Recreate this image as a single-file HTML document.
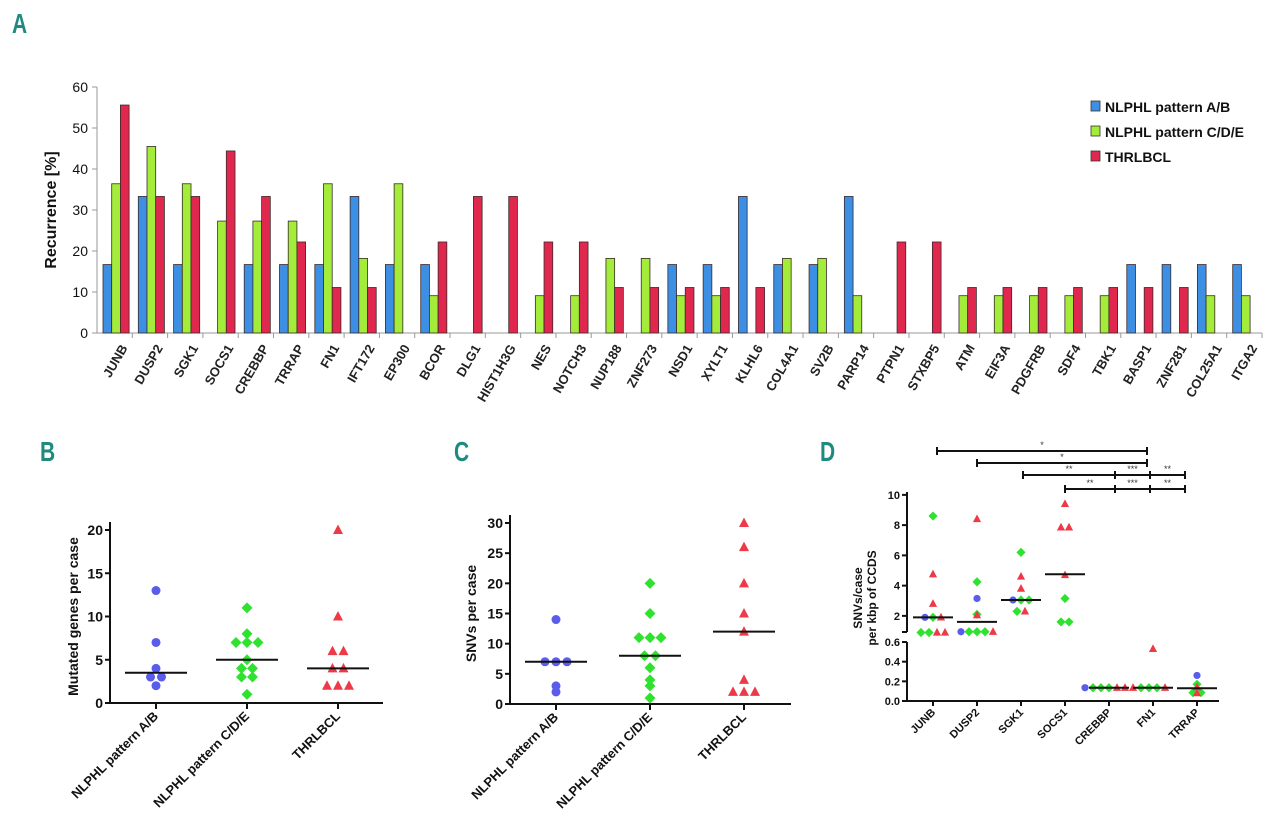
<!DOCTYPE html>
<html><head><meta charset="utf-8"><style>
html,body{margin:0;padding:0;background:#fff;}
svg{display:block;font-family:"Liberation Sans",Arial,sans-serif;}
.pl{fill:#1f8a80;font-weight:bold;font-size:28px;}
</style></head><body>
<svg id="fig" width="1280" height="834" viewBox="0 0 1280 834" xmlns="http://www.w3.org/2000/svg">
<text class="pl" x="12" y="33" transform="translate(12,33) scale(0.75,1) translate(-12,-33)">A</text>
<text class="pl" x="40" y="461" transform="translate(40,461) scale(0.75,1) translate(-40,-461)">B</text>
<text class="pl" x="454" y="461" transform="translate(454,461) scale(0.75,1) translate(-454,-461)">C</text>
<text class="pl" x="820" y="461" transform="translate(820,461) scale(0.75,1) translate(-820,-461)">D</text>
<g id="A"></g>
<g id="B"></g>
<g id="C"></g>
<g id="D"></g>
</svg>
<script>
const genes=["JUNB","DUSP2","SGK1","SOCS1","CREBBP","TRRAP","FN1","IFT172","EP300","BCOR","DLG1","HIST1H3G","NES","NOTCH3","NUP188","ZNF273","NSD1","XYLT1","KLHL6","COL4A1","SV2B","PARP14","PTPN1","STXBP5","ATM","EIF3A","PDGFRB","SDF4","TBK1","BASP1","ZNF281","COL25A1","ITGA2"];
const seriesAB=[16.7,33.3,16.7,0,16.7,16.7,16.7,33.3,16.7,16.7,0,0,0,0,0,0,16.7,16.7,33.3,16.7,16.7,33.3,0,0,0,0,0,0,0,16.7,16.7,16.7,16.7];
const seriesCDE=[36.4,45.5,36.4,27.3,27.3,27.3,36.4,18.2,36.4,9.1,0,0,9.1,9.1,18.2,18.2,9.1,9.1,0,18.2,18.2,9.1,0,0,9.1,9.1,9.1,9.1,9.1,0,0,9.1,9.1];
const seriesTHR=[55.6,33.3,33.3,44.4,33.3,22.2,11.1,11.1,0,22.2,33.3,33.3,22.2,22.2,11.1,11.1,11.1,11.1,11.1,0,0,0,22.2,22.2,11.1,11.1,11.1,11.1,11.1,11.1,11.1,0,0];
const ticksA=[0,10,20,30,40,50,60];
const legendA=["NLPHL pattern A/B","NLPHL pattern C/D/E","THRLBCL"];

const groupsBC=["NLPHL pattern A/B","NLPHL pattern C/D/E","THRLBCL"];
const bAB=[13,7,4,3,3,2], bCDE=[11,8,7,7,7,5,4,4,3,3,1], bTHR=[20,10,6,6,4,4,2,2,2];
const bMed=[3.5,5,4];
const ticksB=[0,5,10,15,20];
const cAB=[14,7,7,7,3,2], cCDE=[20,15,11,11,11,8,8,6,4,3,1], cTHR=[30,26,20,15,12,4,2,2,2];
const cMed=[7,8,12];
const ticksC=[0,5,10,15,20,25,30];

const genesD=["JUNB","DUSP2","SGK1","SOCS1","CREBBP","FN1","TRRAP"];
const dBlue=[[1.9],[3.15,0.95],[3.05],[],[0.135],[],[0.26]];
const dGreen=[[8.6,1.9,0.9,0.9],[4.25,2.1,0.95,0.95,0.95],[6.2,3.05,3.05,2.3],[3.15,1.6,1.6],[0.135,0.135,0.135],[0.135,0.135,0.135],[0.17,0.085,0.085]];
const dRed=[[4.75,2.8,1.9,0.9,0.9],[8.4,2.05,0.95],[4.6,3.8,2.3],[9.4,7.85,7.85,4.7],[0.135,0.135,0.135],[0.53,0.135],[0.14,0.08]];
const dMed=[1.9,1.6,3.05,4.75,0.135,0.135,0.13];
const ticksDUp=[2,4,6,8,10];
const ticksDLo=[0,0.2,0.4,0.6];

const NS="http://www.w3.org/2000/svg";
function mk(parent,tag,attrs,txt){const e=document.createElementNS(NS,tag);for(const k in attrs)e.setAttribute(k,attrs[k]);if(txt!==undefined)e.textContent=txt;parent.appendChild(e);return e;}

// ---------- Panel A ----------
(function(){
const g=document.getElementById('A');
const x0=97,x1=1262,y0=333,yTop=87;
const slot=(x1-x0)/genes.length;
const y=v=>y0-(v/60)*(y0-yTop);
let e=mk(g,'line',{x1:x0,y1:y0,x2:x0,y2:yTop,stroke:'#999','stroke-width':1});

e=mk(g,'line',{x1:x0,y1:y0,x2:x1,y2:y0,stroke:'#999','stroke-width':1});

ticksA.forEach(t=>{
 mk(g,'line',{x1:x0-5,y1:y(t),x2:x0,y2:y(t),stroke:'#999'});
 e=mk(g,'text',{x:x0-9,y:y(t)+5,'text-anchor':'end','font-size':14,fill:'#111'},t);
 
});
e=mk(g,'text',{x:0,y:0,transform:'translate(56,210) rotate(-90)','text-anchor':'middle','font-size':16,'font-weight':'bold',fill:'#111'},'Recurrence [%]');

const cols=['#3d8fe3','#a3ec3a','#e0284f'];
const series=[seriesAB,seriesCDE,seriesTHR];
genes.forEach((gn,i)=>{
 const sx=x0+i*slot;
 mk(g,'line',{x1:sx+slot,y1:y0,x2:sx+slot,y2:y0+5,stroke:'#999'});
 series.forEach((s,k)=>{
  if(s[i]<=0)return;
  const bx=sx+6+k*8.7;
  const r=mk(g,'rect',{x:bx,y:y(s[i]),width:8.7,height:y0-y(s[i]),fill:cols[k],stroke:'#3a2a2a','stroke-width':0.8});
  
  
 });
 const cx=sx+slot/2+5;
 e=mk(g,'text',{x:cx,y:343,transform:`rotate(-60 ${cx} 343)`,'text-anchor':'end','font-size':13,'font-weight':'bold',fill:'#222','dominant-baseline':'hanging'},gn);
 
});
legendA.forEach((t,k)=>{
 const ly=101+k*25;
 let r=mk(g,'rect',{x:1091,y:ly,width:9,height:10,fill:cols[k],stroke:'#333','stroke-width':0.8});
 
 r=mk(g,'text',{x:1105,y:ly+11,'font-size':14,'font-weight':'bold',fill:'#111'},t);
 
});
})();

// markers
const BLUE='#5a5cec',GREEN='#2fe22f',RED='#ee3a48';
function marker(g,type,x,y,s){
 let e;
 if(type==='c')e=mk(g,'circle',{cx:x,cy:y,r:s,fill:BLUE});
 else if(type==='d')e=mk(g,'polygon',{points:`${x},${y-s-1} ${x+s+1},${y} ${x},${y+s+1} ${x-s-1},${y}`,fill:GREEN});
 else e=mk(g,'polygon',{points:`${x},${y-s-1} ${x+s+0.5},${y+s-0.5} ${x-s-0.5},${y+s-0.5}`,fill:RED});
 
 return e;
}
function offsets(vals,step){
 // spread equal values horizontally
 const out=[];const cnt={};vals.forEach(v=>cnt[v]=(cnt[v]||0)+1);const seen={};
 vals.forEach(v=>{const n=cnt[v];const k=seen[v]=(seen[v]||0);seen[v]++;out.push((k-(n-1)/2)*step);});
 return out;
}

// ---------- Panels B & C ----------
function dotPanel(id,ax,ax1,y0,yv,vmax,ticks,data,meds,title,titleX,catX){
 const g=document.getElementById(id);
 const y=v=>y0-(v/vmax)*(y0-yv);
 let e=mk(g,'line',{x1:ax,y1:y0+1,x2:ax,y2:yv-8,stroke:'#111','stroke-width':2});
 
 e=mk(g,'line',{x1:ax-1,y1:y0,x2:ax1,y2:y0,stroke:'#111','stroke-width':2});
 
 ticks.forEach(t=>{
  mk(g,'line',{x1:ax-5,y1:y(t),x2:ax,y2:y(t),stroke:'#111','stroke-width':2});
  e=mk(g,'text',{x:ax-7,y:y(t)+5,'text-anchor':'end','font-size':14,'font-weight':'bold',fill:'#111'},t);
  
 });
 e=mk(g,'text',{x:0,y:0,transform:`translate(${titleX},${(y0+yv)/2}) rotate(-90)`,'text-anchor':'middle','font-size':14,'font-weight':'bold',fill:'#111'},title);
 
 const types=['c','d','t'];
 data.forEach((vals,i)=>{
  const cx=catX[i];
  mk(g,'line',{x1:cx,y1:y0,x2:cx,y2:y0+6,stroke:'#111','stroke-width':2});
  const off=offsets(vals,11);
  vals.forEach((v,j)=>marker(g,types[i],cx+off[j],y(v),4.5));
  e=mk(g,'line',{x1:cx-31,y1:y(meds[i]),x2:cx+31,y2:y(meds[i]),stroke:'#111','stroke-width':2});
  
  e=mk(g,'text',{x:cx+3,y:y0+14,transform:`rotate(-45 ${cx+3} ${y0+14})`,'text-anchor':'end','font-size':13,fill:'#111','font-weight':'bold'},groupsBC[i]);
  
 });
}
dotPanel('B',110,383,703,530,20,ticksB,[bAB,bCDE,bTHR],bMed,'Mutated genes per case',78,[156,247,338]);
dotPanel('C',510,791,704,523,30,ticksC,[cAB,cCDE,cTHR],cMed,'SNVs per case',476,[556,650,744]);

// ---------- Panel D ----------
(function(){
const g=document.getElementById('D');
const ax=907,ax1=1219,y0=701;
const y=v=>v>=0.8?631-(v-1)*15.125:y0-v*98.3;
let e=mk(g,'path',{d:`M${ax},492 L${ax},632 M${ax-5},632 L${ax},632 M${ax},642 L${ax},${y0+1}`,stroke:'#111','stroke-width':2,fill:'none'});

e=mk(g,'line',{x1:ax-1,y1:y0,x2:ax1,y2:y0,stroke:'#111','stroke-width':2});

ticksDUp.concat(ticksDLo).forEach(t=>{
 mk(g,'line',{x1:ax-5,y1:y(t),x2:ax,y2:y(t),stroke:'#111','stroke-width':2});
 e=mk(g,'text',{x:ax-7,y:y(t)+4,'text-anchor':'end','font-size':11,'font-weight':'bold',fill:'#111'},t>=1?t:t.toFixed(1));
 
});
e=mk(g,'text',{x:0,y:0,transform:'translate(862,598) rotate(-90)','text-anchor':'middle','font-size':12,'font-weight':'bold',fill:'#111'},'SNVs/case');

e=mk(g,'text',{x:0,y:0,transform:'translate(876,598) rotate(-90)','text-anchor':'middle','font-size':12,'font-weight':'bold',fill:'#111'},'per kbp of CCDS');

genesD.forEach((gn,i)=>{
 const cx=933+i*44;
 mk(g,'line',{x1:cx,y1:y0,x2:cx,y2:y0+5,stroke:'#111','stroke-width':2});
 const all=[];
 dBlue[i].forEach(v=>all.push(['c',v]));dGreen[i].forEach(v=>all.push(['d',v]));dRed[i].forEach(v=>all.push(['t',v]));
 const rows={};all.forEach(a=>{const k=a[1].toFixed(2);(rows[k]=rows[k]||[]).push(a);});
 Object.keys(rows).forEach(k=>{const r=rows[k];r.forEach((a,j)=>marker(g,a[0],cx+(j-(r.length-1)/2)*8,y(a[1]),3.6));});
 e=mk(g,'line',{x1:cx-20,y1:y(dMed[i]),x2:cx+20,y2:y(dMed[i]),stroke:'#111','stroke-width':2});
 
 e=mk(g,'text',{x:cx+3,y:y0+12,transform:`rotate(-45 ${cx+3} ${y0+12})`,'text-anchor':'end','font-size':11,'font-weight':'bold',fill:'#111'},gn);
 
});
const sig=[[451,[937,1147],['*']],[463,[977,1147],['*']],[475,[1023,1115,1150,1185],['**','***','**']],[489,[1065,1115,1150,1185],['**','***','**']]];
sig.forEach(s=>{
 const yy=s[0],xs=s[1];
 e=mk(g,'line',{x1:xs[0],y1:yy,x2:xs[xs.length-1],y2:yy,stroke:'#111','stroke-width':2});
 
 xs.forEach(x=>mk(g,'line',{x1:x,y1:yy-4,x2:x,y2:yy+4,stroke:'#111','stroke-width':2}));
 for(let k=0;k<xs.length-1;k++){
  e=mk(g,'text',{x:(xs[k]+xs[k+1])/2,y:yy-3,'text-anchor':'middle','font-size':9,fill:'#333'},s[2][k]);
  
 }
});
})();
</script>
</body></html>
